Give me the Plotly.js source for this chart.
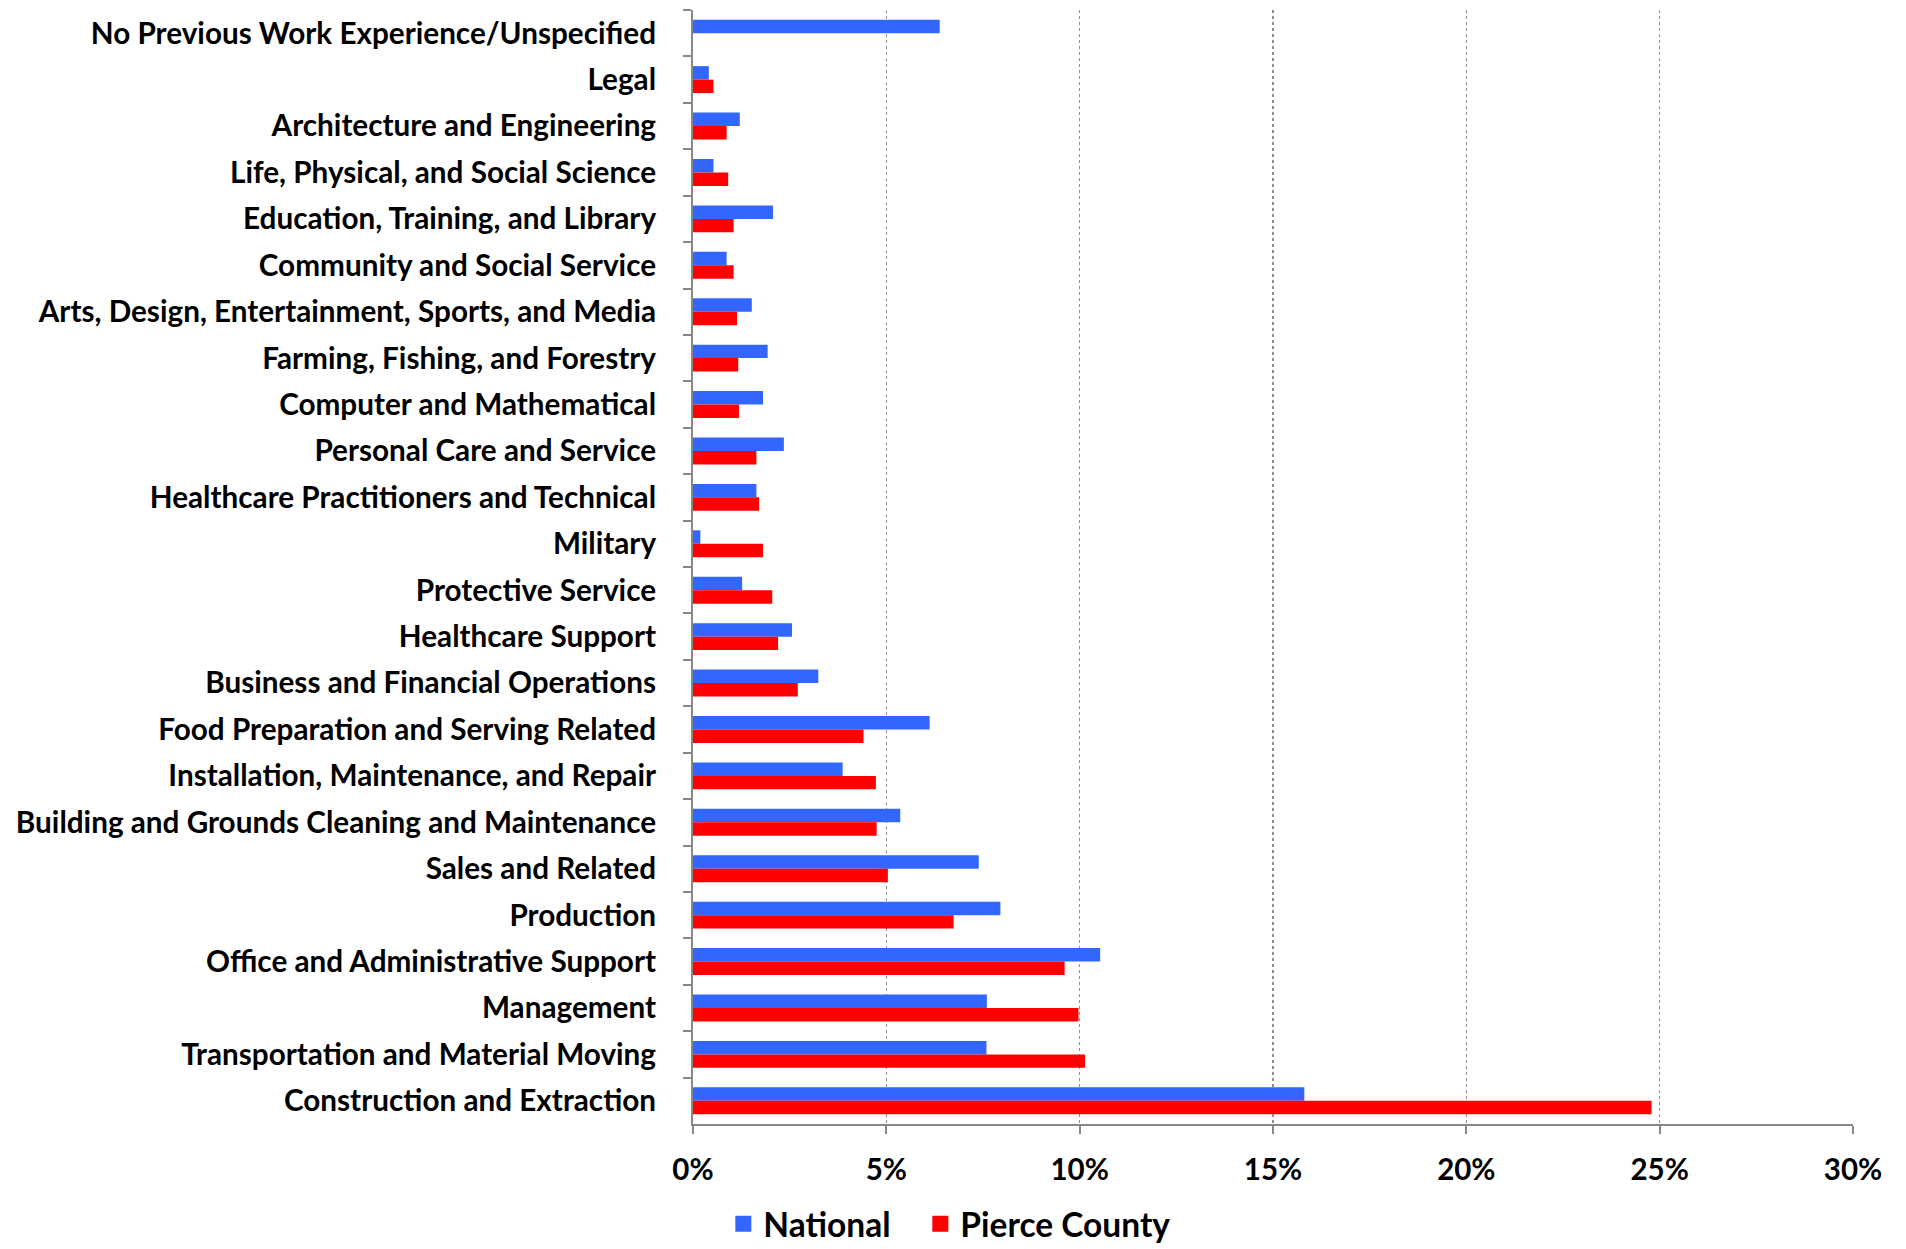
<!DOCTYPE html>
<html>
<head>
<meta charset="utf-8">
<script src="https://cdn.plot.ly/plotly-3.0.1.min.js"></script>
<style>html,body{margin:0;padding:0;background:#fff;}#chart{width:1906px;height:1249px;}</style>
</head>
<body>
<div id="chart"></div>
<script>
var categories = [
  "No Previous Work Experience/Unspecified",
  "Legal",
  "Architecture and Engineering",
  "Life, Physical, and Social Science",
  "Education, Training, and Library",
  "Community and Social Service",
  "Arts, Design, Entertainment, Sports, and Media",
  "Farming, Fishing, and Forestry",
  "Computer and Mathematical",
  "Personal Care and Service",
  "Healthcare Practitioners and Technical",
  "Military",
  "Protective Service",
  "Healthcare Support",
  "Business and Financial Operations",
  "Food Preparation and Serving Related",
  "Installation, Maintenance, and Repair",
  "Building and Grounds Cleaning and Maintenance",
  "Sales and Related",
  "Production",
  "Office and Administrative Support",
  "Management",
  "Transportation and Material Moving",
  "Construction and Extraction"
];
var nationalValues = [6.38, 0.41, 1.21, 0.53, 2.07, 0.87, 1.52, 1.93, 1.81, 2.35, 1.64, 0.19, 1.27, 2.56, 3.24, 6.12, 3.87, 5.36, 7.39, 7.95, 10.53, 7.60, 7.59, 15.81];
var pierceValues = [null, 0.53, 0.87, 0.91, 1.05, 1.05, 1.14, 1.17, 1.19, 1.64, 1.71, 1.81, 2.05, 2.20, 2.71, 4.41, 4.73, 4.75, 5.04, 6.74, 9.61, 9.97, 10.14, 24.79];
var seriesNames = ["National", "Pierce County"];
var seriesColors = ["#3366FF", "#FF0000"];
var tickValues = [0, 5, 10, 15, 20, 25, 30];
var tickLabels = ["0%", "5%", "10%", "15%", "20%", "25%", "30%"];

var fontFamily = "Lato, 'Open Sans', sans-serif";
var traces = [
  {type: "bar", orientation: "h", name: seriesNames[0], y: categories, x: nationalValues,
   marker: {color: seriesColors[0]}, showlegend: false, legendgroup: "n"},
  {type: "bar", orientation: "h", name: seriesNames[1], y: categories, x: pierceValues,
   marker: {color: seriesColors[1]}, showlegend: false, legendgroup: "p"},
  // legend-only entries (no data) so the legend keys can be larger squares
  {type: "scatter", mode: "markers", name: seriesNames[0], x: [null], y: [null],
   marker: {symbol: "square", size: 16, color: seriesColors[0]}, legendgroup: "n", legendwidth: 152},
  {type: "scatter", mode: "markers", name: seriesNames[1], x: [null], y: [null],
   marker: {symbol: "square", size: 16, color: seriesColors[1]}, legendgroup: "p"}
];
var layout = {
  width: 1906, height: 1249,
  paper_bgcolor: "#ffffff", plot_bgcolor: "#ffffff",
  margin: {l: 693, r: 53, t: 10, b: 125, pad: 0},
  barmode: "group", bargap: 0.42, bargroupgap: 0,
  font: {family: fontFamily, size: 30, color: "#000", weight: "bold"},
  xaxis: {
    range: [0, 30], tickvals: tickValues, ticktext: tickLabels,
    showgrid: true, gridcolor: "#8f8f8f", griddash: "dot", gridwidth: 1.5,
    showline: true, linecolor: "#888888", linewidth: 2,
    ticks: "outside", ticklen: 8, tickcolor: "#888888", tickwidth: 2,
    ticklabelstandoff: 11, zeroline: false,
    tickfont: {family: fontFamily, size: 29.5, color: "#000", weight: "bold"}
  },
  yaxis: {
    type: "category", autorange: "reversed",
    showgrid: false, showline: true, linecolor: "#888888", linewidth: 2,
    ticks: "outside", ticklen: 8, tickcolor: "#888888", tickwidth: 2,
    tickson: "boundaries", ticklabelstandoff: 29,
    tickfont: {family: fontFamily, size: 29.7, color: "#000", weight: "bold"}
  },
  showlegend: true,
  legend: {
    orientation: "h", xref: "container", yref: "container",
    x: 0.3795, xanchor: "left", y: 0.02, yanchor: "middle",
    font: {family: fontFamily, size: 33.5, color: "#000", weight: "bold"},
    itemwidth: 30, itemsizing: "trace", tracegroupgap: 0, bgcolor: "rgba(0,0,0,0)"
  }
};
Plotly.newPlot("chart", traces, layout, {displayModeBar: false, staticPlot: true});
</script>
</body>
</html>
